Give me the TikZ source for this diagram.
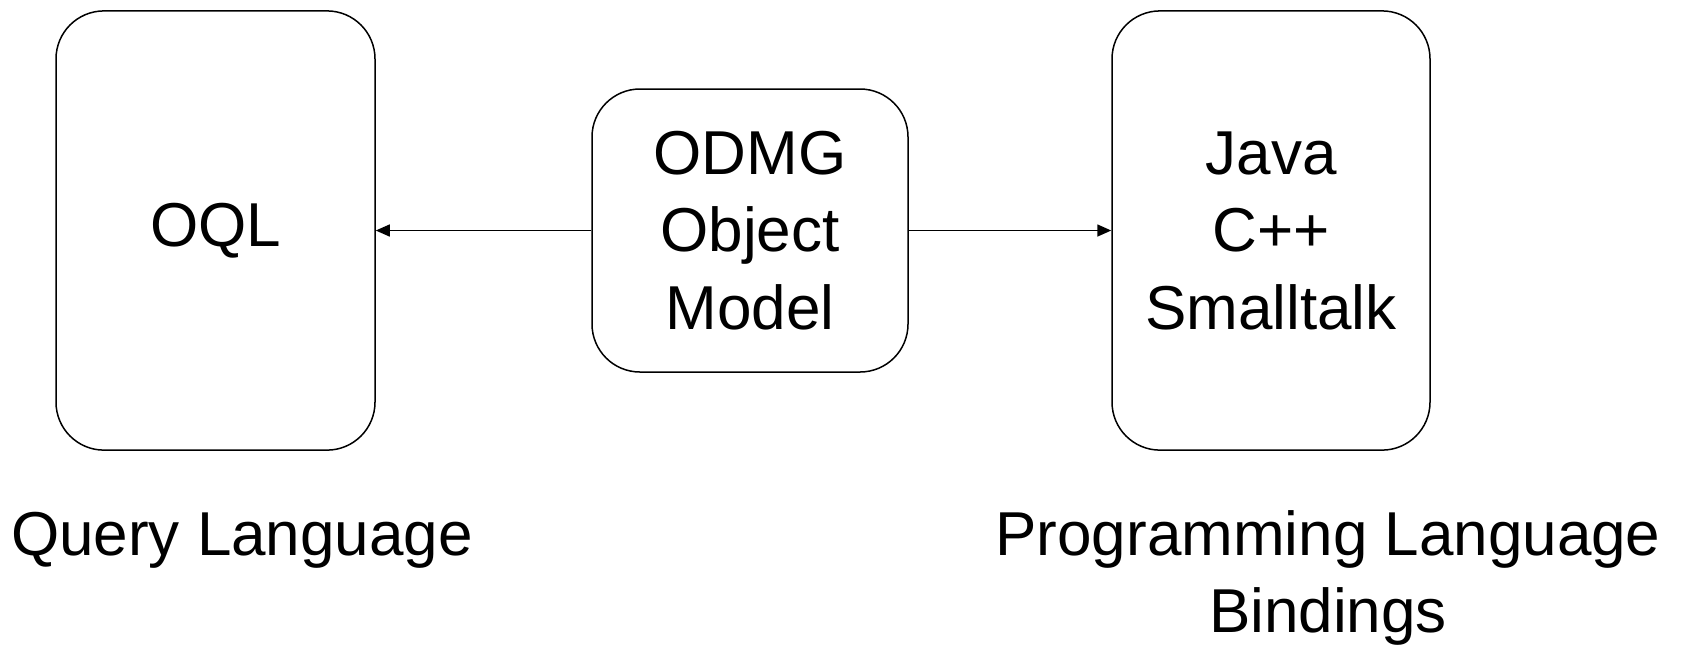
\documentclass[tikz,border=0pt]{standalone}
\usepackage{fontspec}
\setmainfont{Liberation Sans}
\usetikzlibrary{arrows.meta}

\begin{document}
\begin{tikzpicture}[x=1pt, y=1pt,
  lbl/.style={font=\fontsize{31}{38.75}\selectfont, align=center, inner sep=0pt},
  langbox/.style={lbl, draw, line width=0.75pt, rounded corners=24pt},
  link/.style={line width=0.75pt, -{Triangle[length=7pt,width=6pt]}}]
\useasboundingbox (0,0) rectangle (844.5,-322.5);
\node [langbox, minimum width=159.5pt, minimum height=219.6pt] (oql) at (107.75,-115.25) {OQL};
\node [langbox, minimum width=158pt, minimum height=141.5pt] (odmg) at (375,-115.25) {ODMG\\Object\\Model};
\node [langbox, minimum width=159pt, minimum height=219.6pt] (bind) at (635.5,-115.25) {Java\\C++\\Smalltalk};
\draw [link] (odmg) -- (oql);
\draw [link] (odmg) -- (bind);
\node [lbl] (qlang) at (121,-270) {Query Language};
\node [lbl] (plang) at (664,-289) {Programming Language\\Bindings};
\end{tikzpicture}
\end{document}
